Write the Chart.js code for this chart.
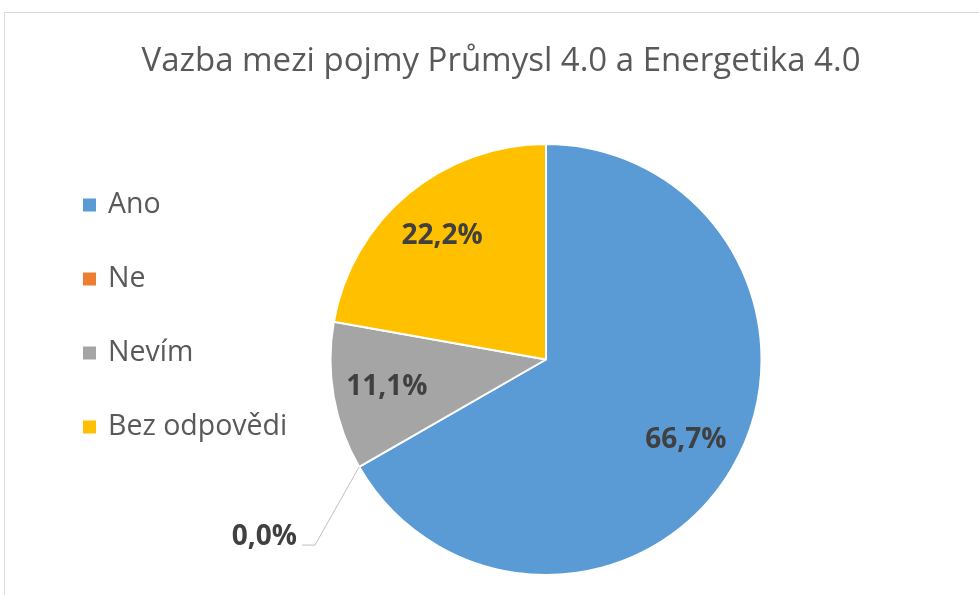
<!DOCTYPE html>
<html lang="cs">
<head>
<meta charset="utf-8">
<title>Vazba mezi pojmy Průmysl 4.0 a Energetika 4.0</title>
<script src="https://cdn.jsdelivr.net/npm/chart.js"></script>
<style>
  html, body { margin: 0; padding: 0; background: #fff; overflow: hidden; }
  #wrap { position: relative; width: 979px; height: 595px; }
</style>
</head>
<body>
<div id="wrap"><canvas id="pieChart"></canvas></div>
<script>
// Data (podíly odpovědí v %)
const chartTitle = "Vazba mezi pojmy Průmysl 4.0 a Energetika 4.0";
const categories = ["Ano", "Ne", "Nevím", "Bez odpovědi"];
const shares = [66.7, 0.0, 11.1, 22.2];
const colors = ["#5B9BD5", "#ED7D31", "#A5A5A5", "#FFC000"];

const textGray = "#595959";
const labelGray = "#404040";

// Rámeček, nadpis a legenda vlevo (Excel-like rozvržení)
const frame = {
    id: "frame",
    beforeDraw(chart) {
        const c = chart.ctx;
        c.save();
        c.strokeStyle = "#D9D9D9";
        c.lineWidth = 1;
        c.beginPath();
        c.moveTo(4.5, chart.height);
        c.lineTo(4.5, 12.5);
        c.lineTo(chart.width, 12.5);
        c.stroke();

        // nadpis
        c.fillStyle = textGray;
        c.font = "33px 'Open Sans'";
        c.textAlign = "center";
        c.textBaseline = "middle";
        c.fillText(chartTitle, 501, 62);

        // legenda
        const ds = chart.data.datasets[0];
        c.font = "28.5px 'Open Sans'";
        c.textAlign = "left";
        chart.data.labels.forEach((label, i) => {
            const y = 205 + i * 74;
            c.fillStyle = ds.backgroundColor[i];
            c.fillRect(83, y - 6.5, 13, 13);
            c.fillStyle = textGray;
            c.fillText(label, 108, y);
        });
        c.restore();
    }
};

// Popisky dat (procenta s desetinnou čárkou)
const dataLabels = {
    id: "dataLabels",
    afterDatasetsDraw(chart) {
        const c = chart.ctx;
        const meta = chart.getDatasetMeta(0);
        c.save();
        c.font = "bold 28px 'Open Sans'";
        c.fillStyle = labelGray;
        meta.data.forEach((arc, i) => {
            const p = arc.getProps(["x", "y", "startAngle", "endAngle", "outerRadius"], true);
            const mid = (p.startAngle + p.endAngle) / 2;
            const text = shares[i].toFixed(1).replace(".", ",") + "%";
            if (shares[i] > 0) {
                const r = p.outerRadius * 0.75;
                c.textAlign = "center";
                c.textBaseline = "middle";
                c.fillText(text, p.x + Math.cos(mid) * r, p.y + Math.sin(mid) * r);
            } else {
                // nulový dílek: popisek venku s vodicí čarou
                const R = p.outerRadius;
                const x0 = p.x + Math.cos(mid) * R;
                const y0 = p.y + Math.sin(mid) * R;
                const x1 = x0 - R * 0.205;
                const y1 = y0 + R * 0.363;
                c.strokeStyle = "#BFBFBF";
                c.lineWidth = 1;
                c.beginPath();
                c.moveTo(x0, y0);
                c.lineTo(x1, y1);
                c.lineTo(x1 - 13, y1);
                c.stroke();
                c.textAlign = "right";
                c.textBaseline = "alphabetic";
                c.fillText(text, x1 - 18, y1);
            }
        });
        c.restore();
    }
};

const ctx = document.getElementById("pieChart").getContext("2d");

const pieChart = new Chart(ctx, {
    type: "pie",
    data: {
        labels: categories,
        datasets: [{
            data: shares,
            backgroundColor: colors,
            borderColor: "#FFFFFF",
            borderWidth: 2
        }]
    },
    options: {
        responsive: true,
        maintainAspectRatio: false,
        animation: false,
        layout: { padding: { left: 116, right: 3, top: 143, bottom: 19 } },
        plugins: {
            title: { display: false },
            legend: { display: false },
            tooltip: { enabled: false }
        }
    },
    plugins: [frame, dataLabels]
});
</script>
</body>
</html>
